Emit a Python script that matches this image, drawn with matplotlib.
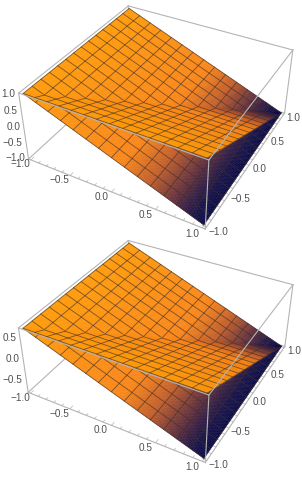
import numpy as np
import matplotlib
matplotlib.use('Agg')
import matplotlib.pyplot as plt
from matplotlib.colors import LinearSegmentedColormap
from mpl_toolkits.mplot3d.art3d import Poly3DCollection

x_ticks = [-1.0, -0.5, 0.0, 0.5, 1.0]
y_ticks = [-1.0, -0.5, 0.0, 0.5, 1.0]
minor_ticks = [-1.0, -0.9, -0.8, -0.7, -0.6, -0.5, -0.4, -0.3, -0.2, -0.1, 0.0,
               0.1, 0.2, 0.3, 0.4, 0.5, 0.6, 0.7, 0.8, 0.9, 1.0]
top_zticks = [-1.0, -0.5, 0.0, 0.5, 1.0]
bottom_zticks = [-0.5, 0.0, 0.5]
top_zrange = [-1.0, 1.0]
bottom_zrange = [-0.8, 0.7]
mesh_cells = 14
pad = 0.03

sunset = LinearSegmentedColormap.from_list('sunset', [
    (0.0, '#ff9c0a'), (0.55, '#f98619'), (0.7, '#c4602a'),
    (0.84, '#5e2f3e'), (0.94, '#1a1448'), (1.0, '#0a0a46')])


def height(s, zlo, zhi):
    # both sheets are planes falling from zhi at -1 to zlo at +1
    return zhi - (zhi - zlo) * (1 + s) / 2


def add_sheet(ax, which, zlo, zhi, zorder):
    sub = 84
    u = np.linspace(-1, 1, sub + 1)
    polys, cols = [], []
    for i in range(sub):
        for j in range(sub):
            xs = [u[i], u[i + 1], u[i + 1], u[i]]
            ys = [u[j], u[j], u[j + 1], u[j + 1]]
            if which == 'y' and (u[i] + u[i + 1]) < (u[j] + u[j + 1]):
                continue  # this half is under the other sheet
            ss = xs if which == 'x' else ys
            polys.append([(a, b, height(s, zlo, zhi)) for a, b, s in zip(xs, ys, ss)])
            cols.append(sunset((sum(ss) / 4 + 1) / 2))
    pc = Poly3DCollection(polys, facecolors=cols, edgecolors=cols, linewidths=0.3, zorder=zorder)
    ax.add_collection3d(pc)
    t = np.linspace(-1, 1, 57)
    for m in np.linspace(-1, 1, mesh_cells + 1):
        for lx, ly in ((np.full_like(t, m), t), (t, np.full_like(t, m))):
            if which == 'y':
                keep = lx >= ly - 1e-9
                lx, ly = lx[keep], ly[keep]
                if len(lx) < 2:
                    continue
            ss = lx if which == 'x' else ly
            ax.plot(lx, ly, height(ss, zlo, zhi), color='#40302a', alpha=0.68, lw=0.6, zorder=zorder + 0.5)


def draw_panel(ax, zlo, zhi, zticks, zasp):
    ax.set_proj_type('persp', focal_length=0.42)
    ax.view_init(elev=36, azim=-61)
    ax.set_box_aspect((1, 1, zasp), zoom=0.92)
    ax.computed_zorder = False
    ax.set_axis_off()
    b = 1 + pad
    lo = zlo - pad * (zhi - zlo) / 2
    hi = zhi + pad * (zhi - zlo) / 2
    ax.set_xlim(-b, b)
    ax.set_ylim(-b, b)
    ax.set_zlim(lo, hi)
    box = '#b4b4b4'
    # hidden edges go under the surface
    for p, q in [((-b, -b, lo), (b, -b, lo)), ((b, -b, lo), (b, b, lo)),
                 ((-b, -b, lo), (-b, b, lo)), ((-b, b, lo), (b, b, lo)),
                 ((-b, b, lo), (-b, b, hi)), ((-b, -b, lo), (-b, -b, hi))]:
        ax.plot(*zip(p, q), color=box, lw=0.8, zorder=0)
    for v in minor_ticks:
        n = 0.05 if v in x_ticks else 0.03
        ax.plot([v, v], [-b, -b + n], [lo, lo], color=box, lw=0.5, zorder=0)
        ax.plot([b, b - n], [v, v], [lo, lo], color=box, lw=0.5, zorder=0)
    add_sheet(ax, 'x', zlo, zhi, 1)
    add_sheet(ax, 'y', zlo, zhi, 2)
    for p, q in [((-b, -b, hi), (b, -b, hi)), ((b, -b, hi), (b, b, hi)),
                 ((b, b, hi), (-b, b, hi)), ((-b, b, hi), (-b, -b, hi)),
                 ((b, -b, lo), (b, -b, hi)), ((b, b, lo), (b, b, hi))]:
        ax.plot(*zip(p, q), color=box, lw=0.8, zorder=4)
    for v in x_ticks:
        ax.text(v - 0.05, -1.14, lo, f'{v:.1f}'.replace('-', '\u2212'), fontsize=7.2,
                color='#505050', ha='center', va='center', zorder=5)
    for v in y_ticks:
        ax.text(1.15, v, lo, f'{v:.1f}'.replace('-', '\u2212'), fontsize=7.2,
                color='#505050', ha='center', va='center', zorder=5)
    for v in zticks:
        ax.text(-b - 0.03, -b - 0.018, v, f'{v:.1f}'.replace('-', '\u2212'), fontsize=7.2,
                color='#505050', ha='right', va='center', zorder=5)


plt.rcParams['font.family'] = ['Liberation Sans', 'DejaVu Sans']
fig = plt.figure(figsize=(3.02, 4.80), dpi=100, facecolor='white')
ax1 = fig.add_axes([7 / 302, 221 / 480, 1.0, 302 / 480], projection='3d')
ax2 = fig.add_axes([7 / 302, -13 / 480, 1.0, 302 / 480], projection='3d')
ax1.patch.set_alpha(0)
ax2.patch.set_alpha(0)
draw_panel(ax1, top_zrange[0], top_zrange[1], top_zticks, 0.41)
draw_panel(ax2, bottom_zrange[0], bottom_zrange[1], bottom_zticks, 0.40)
fig.savefig('out.png', dpi=100)
